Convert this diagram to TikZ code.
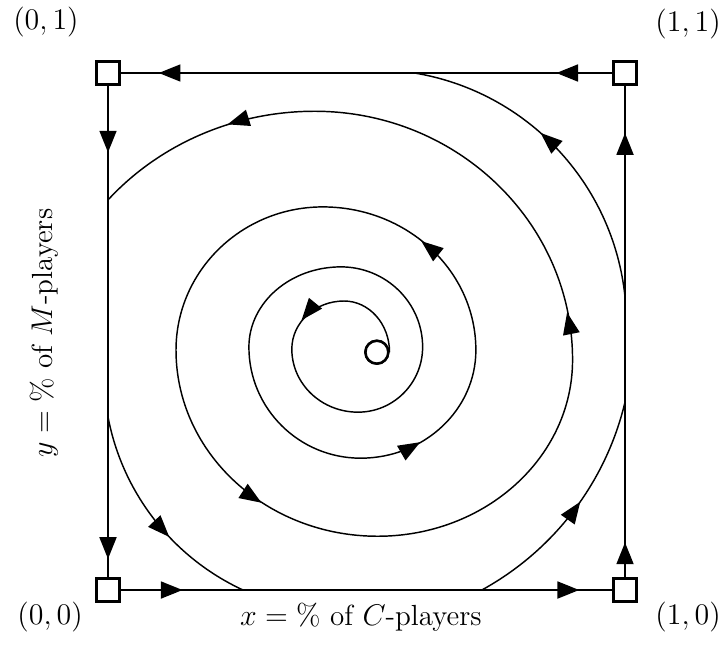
\documentclass[tikz,border=0pt]{standalone}
\usepackage{amsmath}
\usetikzlibrary{arrows.meta,decorations.markings}
\tikzset{
  corner/.style={rectangle, draw, fill=white, line width=1.3pt,
                 minimum size=11pt, inner sep=0pt},
  rest/.style={circle, draw, fill=white, line width=1.2pt,
               minimum size=11pt, inner sep=0pt},
  side/.style={line width=1.4pt},
  orbit/.style={line width=0.7pt},
  tipat/.style={postaction={decorate, decoration={markings,
                mark=at position #1 with {\arrow{Triangle[length=10.5pt,width=8pt]}}}}},
  tiponly/.style={orbit, draw=none, tipat=#1},
  lbl/.style={font=\fontsize{14}{16}\selectfont},
}

\begin{document}
\begin{tikzpicture}[x=0.874cm, y=0.874cm]
  \useasboundingbox (-2.089,-1.064) rectangle (11.934,11.412);

  % corners of the unit square
  \node[corner] (c00) at (0,0)   {};
  \node[corner] (c10) at (10,0)  {};
  \node[corner] (c11) at (10,10) {};
  \node[corner] (c01) at (0,10)  {};

  % flow along the edges
  \draw[side, tipat=0.114, tipat=0.923] (c11) -- (c01);
  \draw[side, tipat=0.136, tipat=0.963] (c01) -- (c00);
  \draw[side, tipat=0.126, tipat=0.933] (c00) -- (c10);
  \draw[side, tipat=0.071, tipat=0.904] (c10) -- (c11);

  % turning points of the spiral that carry an arrow
  \coordinate (t1) at (4.55,5.59);
  \coordinate (b2) at (4.87,2.55);
  \coordinate (r2) at (7.10,4.64);
  \coordinate (l3) at (1.30,4.64);
  \coordinate (r3) at (8.97,4.45);
  \coordinate (t4) at (3.98,9.26);

  % where the outer orbit comes in through the edges
  \coordinate (w0) at (0,3.35);
  \coordinate (s1) at (7.23,0);
  \coordinate (e1) at (10,5.67);

  \node[rest] (eq) at (5.20,4.60) {};

  % the spiral, quarter by quarter
  \draw[orbit] (eq.east)
    arc[start angle=0,   end angle=90,  x radius=0.88, y radius=0.99]
    arc[start angle=90,  end angle=180, x radius=1.01, y radius=0.93]
    arc[start angle=180, end angle=270, x radius=1.28, y radius=1.22]
    arc[start angle=270, end angle=360, x radius=1.25, y radius=1.26]
    arc[start angle=0,   end angle=90,  x radius=1.58, y radius=1.55]
    arc[start angle=90,  end angle=180, x radius=1.78, y radius=1.55]
    arc[start angle=180, end angle=270, x radius=2.16, y radius=2.15]
    arc[start angle=270, end angle=360, x radius=2.23, y radius=2.09]
    arc[start angle=0,   end angle=90,  x radius=2.96, y radius=2.77]
    arc[start angle=90,  end angle=180, x radius=2.84, y radius=2.77]
    arc[start angle=180, end angle=270, x radius=3.90, y radius=3.60]
    arc[start angle=270, end angle=360, x radius=3.77, y radius=3.41]
    arc[start angle=0,   end angle=90,  x radius=4.99, y radius=4.81]
    arc[start angle=90,  end angle=138.7, x radius=5.3, y radius=5];
  % arrow heads on the spiral
  \path[tiponly=0.6]  (t1) arc[start angle=90,  end angle=180, x radius=1.01, y radius=0.93];
  \path[tiponly=0.36] (b2) arc[start angle=270, end angle=360, x radius=2.23, y radius=2.09];
  \path[tiponly=0.54] (r2) arc[start angle=0,   end angle=90,  x radius=2.96, y radius=2.77];
  \path[tiponly=0.6]  (l3) arc[start angle=180, end angle=270, x radius=3.90, y radius=3.60];
  \path[tiponly=0.12] (r3) arc[start angle=0,   end angle=90,  x radius=4.99, y radius=4.81];
  \path[tiponly=0.38] (t4) arc[start angle=90,  end angle=138.7, x radius=5.3, y radius=5];

  % outer orbit, cut by the square
  \draw[orbit, tipat=0.6]  (w0) arc[start angle=190.7, end angle=245.1, radius=4.64];
  \draw[orbit, tipat=0.55] (s1) arc[start angle=-61.25, end angle=-13.5, radius=5.63];
  \draw[orbit, tipat=0.57] (e1) arc[start angle=5.9, end angle=80.8, radius=4.9];

  \node[rest] at (eq) {};

  % labels
  \node[lbl] (p01) at (-1.20,10.99) {$(0,1)$};
  \node[lbl] (p11) at (11.22,10.95) {$(1,1)$};
  \node[lbl] (p00) at (-1.12,-0.52) {$(0,0)$};
  \node[lbl] (p10) at (11.22,-0.52) {$(1,0)$};
  \node[lbl] (xlab) at (4.89,-0.52) {$x=\%$ of $C$-players};
  \node[lbl, rotate=90] (ylab) at (-1.24,4.97) {$y=\%$ of $M$-players};
\end{tikzpicture}
\end{document}
